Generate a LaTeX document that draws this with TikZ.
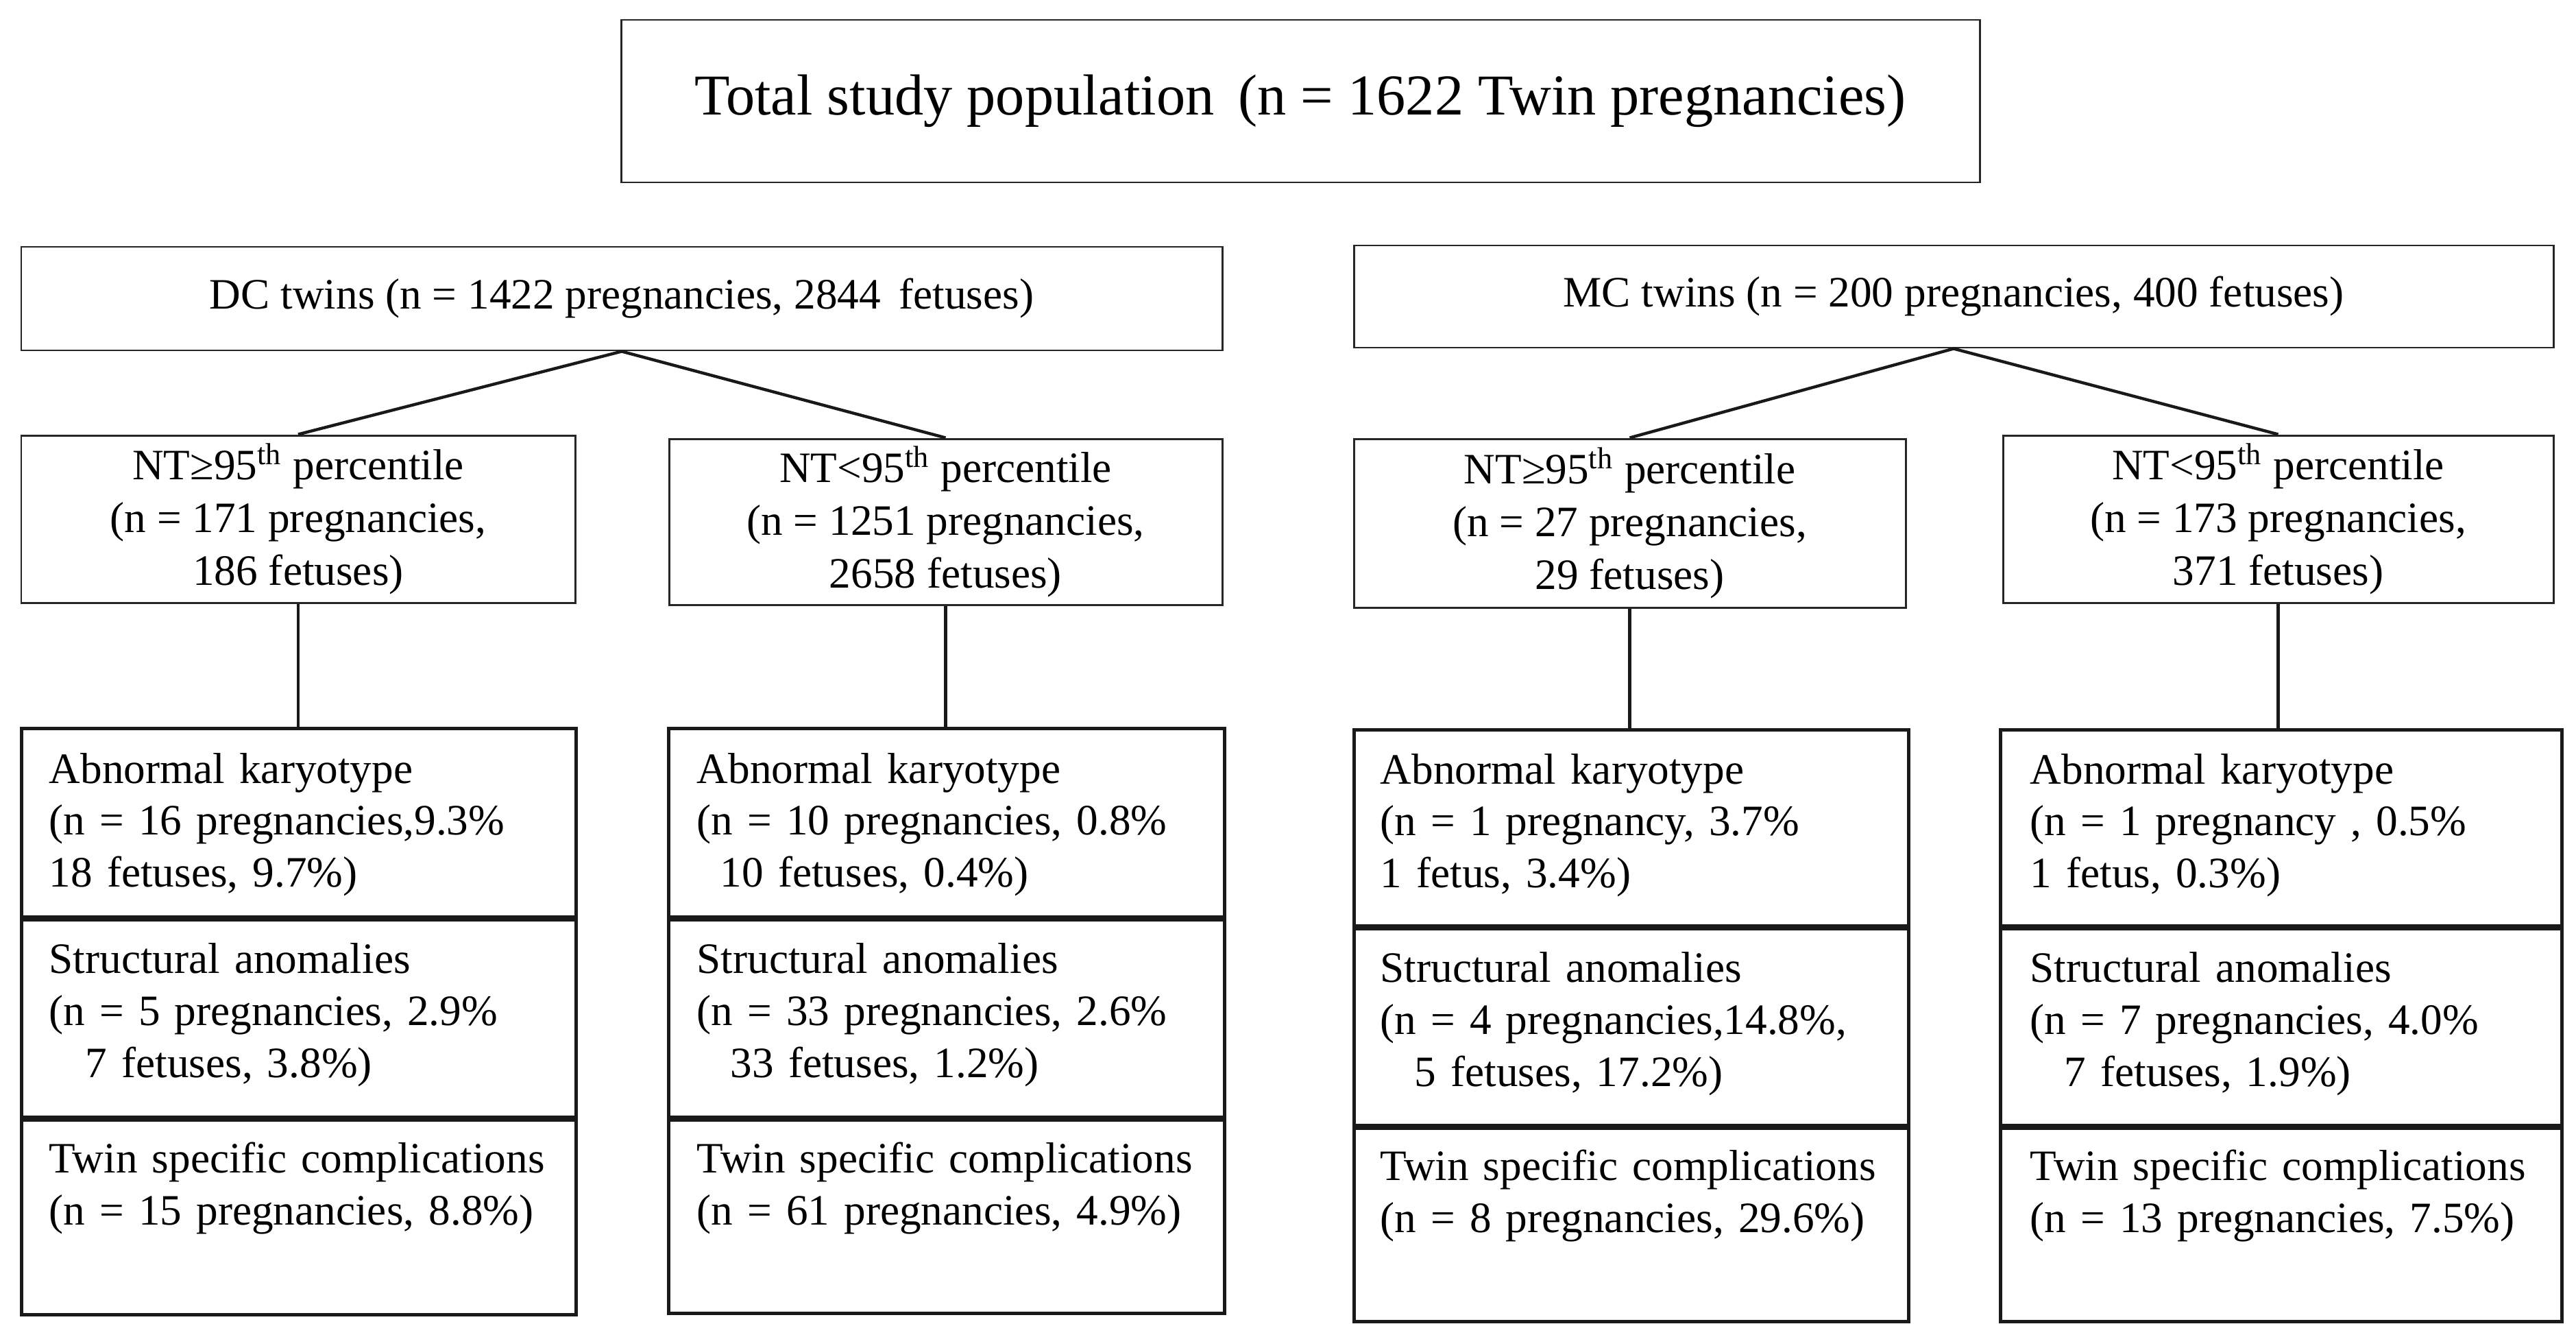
\documentclass[tikz,border=0pt]{standalone}
\usepackage{fontspec}
\setmainfont{Liberation Serif}
\usetikzlibrary{calc}
\tikzset{
  upbox/.style={draw=black!85, line width=0.85pt, rectangle, inner sep=0pt, align=center},
  toptext/.style={font=\fontsize{24}{28}\selectfont},
  midtext/.style={font=\fontsize{18}{22}\selectfont},
  secbox/.style={draw=black!90, line width=1.3pt, rectangle, inner sep=0pt, anchor=north west},
  sectxt/.style={inner sep=0pt, anchor=base west, text width=7.6cm, align=left, font=\fontsize{18}{21.6}\selectfont},
  conn/.style={draw=black!90, line width=1.25pt},
  vconn/.style={draw=black!90, line width=1.2pt}
}
\begin{document}
\begin{tikzpicture}
\useasboundingbox (0,0) rectangle (37.58,-19.31);
% level 0
\node[upbox, toptext, minimum width=19.82cm, minimum height=2.37cm] (total) at (18.97,-1.475) {Total study population\, (n = 1622 Twin pregnancies)};
% level 1
\node[upbox, midtext, minimum width=17.52cm, minimum height=1.51cm] (dc) at (9.07,-4.355) {DC twins (n = 1422 pregnancies, 2844\, fetuses)};
\node[upbox, midtext, minimum width=17.50cm, minimum height=1.49cm] (mc) at (28.50,-4.325) {MC twins (n = 200 pregnancies, 400 fetuses)};
% level 2
\node[upbox, midtext, minimum width=8.08cm, minimum height=2.44cm] (nt1) at (4.35,-7.57) {NT≥95\textsuperscript{th} percentile\\(n = 171 pregnancies,\\186 fetuses)};
\node[upbox, midtext, minimum width=8.07cm, minimum height=2.42cm] (nt2) at (13.795,-7.61) {NT<95\textsuperscript{th} percentile\\(n = 1251 pregnancies,\\2658 fetuses)};
\node[upbox, midtext, minimum width=8.05cm, minimum height=2.46cm] (nt3) at (23.775,-7.63) {NT≥95\textsuperscript{th} percentile\\(n = 27 pregnancies,\\29 fetuses)};
\node[upbox, midtext, minimum width=8.03cm, minimum height=2.44cm] (nt4) at (33.235,-7.57) {NT<95\textsuperscript{th} percentile\\(n = 173 pregnancies,\\371 fetuses)};
% level 3 boxes
\node[secbox, minimum width=8.09cm, minimum height=2.75cm] (b1a) at (0.29,-10.60) {};
\node[secbox, minimum width=8.09cm, minimum height=2.87cm] (b1b) at (b1a.south west) {};
\node[secbox, minimum width=8.09cm, minimum height=2.84cm] (b1c) at (b1b.south west) {};
\node[secbox, minimum width=8.11cm, minimum height=2.75cm] (b2a) at (9.73,-10.60) {};
\node[secbox, minimum width=8.11cm, minimum height=2.87cm] (b2b) at (b2a.south west) {};
\node[secbox, minimum width=8.11cm, minimum height=2.82cm] (b2c) at (b2b.south west) {};
\node[secbox, minimum width=8.09cm, minimum height=2.86cm] (b3a) at (19.73,-10.62) {};
\node[secbox, minimum width=8.09cm, minimum height=2.86cm] (b3b) at (b3a.south west) {};
\node[secbox, minimum width=8.09cm, minimum height=2.82cm] (b3c) at (b3b.south west) {};
\node[secbox, minimum width=8.19cm, minimum height=2.86cm] (b4a) at (29.16,-10.62) {};
\node[secbox, minimum width=8.19cm, minimum height=2.86cm] (b4b) at (b4a.south west) {};
\node[secbox, minimum width=8.19cm, minimum height=2.82cm] (b4c) at (b4b.south west) {};
% level 3 texts
\node[sectxt] (t1a) at ($(b1a.north west)+(0.42,-0.82)$) {Abnormal karyotype\\(n = 16 pregnancies,9.3\%\\18 fetuses, 9.7\%)};
\node[sectxt] (t1b) at ($(b1b.north west)+(0.42,-0.80)$) {Structural anomalies\\(n = 5 pregnancies, 2.9\%\\\hspace*{0.53cm}7 fetuses, 3.8\%)};
\node[sectxt] (t1c) at ($(b1c.north west)+(0.42,-0.79)$) {Twin specific complications\\(n = 15 pregnancies, 8.8\%)};
\node[sectxt] (t2a) at ($(b2a.north west)+(0.43,-0.82)$) {Abnormal karyotype\\(n = 10 pregnancies, 0.8\%\\\hspace*{0.34cm}10 fetuses, 0.4\%)};
\node[sectxt] (t2b) at ($(b2b.north west)+(0.43,-0.80)$) {Structural anomalies\\(n = 33 pregnancies, 2.6\%\\\hspace*{0.49cm}33 fetuses, 1.2\%)};
\node[sectxt] (t2c) at ($(b2c.north west)+(0.43,-0.79)$) {Twin specific complications\\(n = 61 pregnancies, 4.9\%)};
\node[sectxt] (t3a) at ($(b3a.north west)+(0.40,-0.81)$) {Abnormal karyotype\\(n = 1 pregnancy, 3.7\%\\1 fetus, 3.4\%)};
\node[sectxt] (t3b) at ($(b3b.north west)+(0.40,-0.80)$) {Structural anomalies\\(n = 4 pregnancies,14.8\%,\\\hspace*{0.50cm}5 fetuses, 17.2\%)};
\node[sectxt] (t3c) at ($(b3c.north west)+(0.40,-0.78)$) {Twin specific complications\\(n = 8 pregnancies, 29.6\%)};
\node[sectxt] (t4a) at ($(b4a.north west)+(0.45,-0.81)$) {Abnormal karyotype\\(n = 1 pregnancy , 0.5\%\\1 fetus, 0.3\%)};
\node[sectxt] (t4b) at ($(b4b.north west)+(0.45,-0.80)$) {Structural anomalies\\(n = 7 pregnancies, 4.0\%\\\hspace*{0.50cm}7 fetuses, 1.9\%)};
\node[sectxt] (t4c) at ($(b4c.north west)+(0.45,-0.78)$) {Twin specific complications\\(n = 13 pregnancies, 7.5\%)};
% connectors
\draw[conn] (dc.south) -- (nt1.north);
\draw[conn] (dc.south) -- (nt2.north);
\draw[conn] (mc.south) -- (nt3.north);
\draw[conn] (mc.south) -- (nt4.north);
\draw[vconn] (nt1.south) -- (nt1.south |- b1a.north);
\draw[vconn] (nt2.south) -- (nt2.south |- b2a.north);
\draw[vconn] (nt3.south) -- (nt3.south |- b3a.north);
\draw[vconn] (nt4.south) -- (nt4.south |- b4a.north);
\end{tikzpicture}
\end{document}
